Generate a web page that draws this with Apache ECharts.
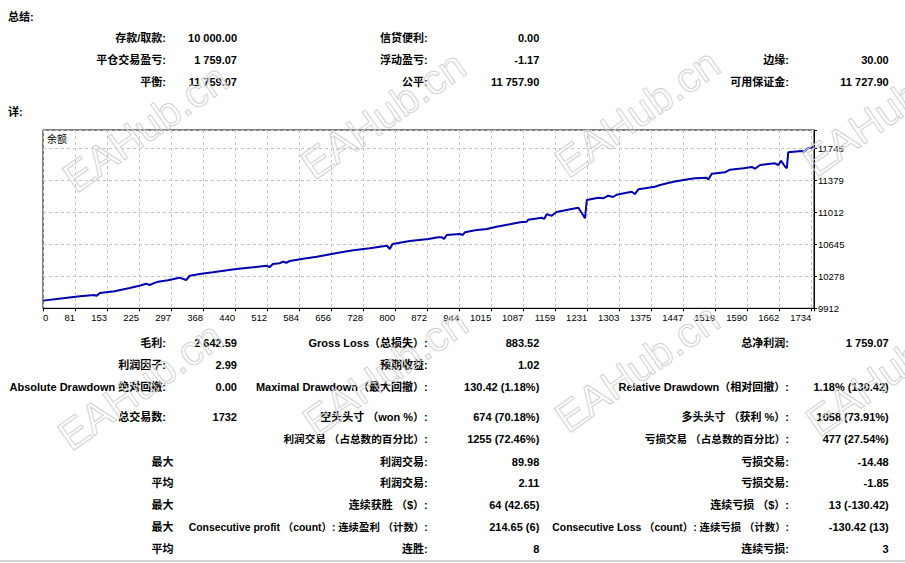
<!DOCTYPE html>
<html>
<head>
<meta charset="utf-8">
<script src="https://cdn.jsdelivr.net/npm/echarts@6/dist/echarts.min.js"></script>
<style>
  html, body { margin: 0; padding: 0; background: #fff; }
  #report { width: 905px; height: 563px; }
</style>
</head>
<body>
<div id="report"></div>
<script>
// balance curve (trade number / balance)
var tradeNo = [0, 45, 83, 116, 120, 128, 161, 195, 217, 232, 240, 247, 259, 281, 307, 322, 330, 356, 382, 435,
  472, 502, 510, 517, 532, 540, 547, 555, 585, 616, 661, 698, 735, 769, 774, 780, 786, 825, 867, 889,
  897, 902, 908, 938, 944, 949, 972, 998, 1020, 1050, 1073, 1088, 1091, 1122, 1127, 1133, 1144, 1155, 1189, 1204,
  1212, 1219, 1223, 1249, 1260, 1271, 1282, 1290, 1324, 1331, 1339, 1354, 1376, 1388, 1406, 1418, 1444, 1466, 1493, 1496,
  1504, 1534, 1545, 1575, 1594, 1601, 1613, 1646, 1654, 1660, 1669, 1673, 1676, 1706, 1711, 1721, 1732];
var balance = [10000, 10027, 10049, 10064, 10053, 10087, 10107, 10145, 10171, 10194, 10179, 10194, 10217, 10233, 10263, 10236, 10285, 10308, 10324, 10362,
  10382, 10400, 10385, 10420, 10428, 10446, 10434, 10454, 10480, 10503, 10545, 10576, 10599, 10626, 10626, 10591, 10649, 10683, 10706, 10725,
  10725, 10706, 10752, 10763, 10752, 10783, 10806, 10820, 10847, 10874, 10897, 10904, 10927, 10950, 10935, 10989, 10973, 11015, 11050, 11064,
  11000, 10943, 11153, 11179, 11172, 11202, 11187, 11213, 11248, 11221, 11275, 11287, 11305, 11325, 11347, 11362, 11385, 11401, 11408, 11385,
  11454, 11470, 11500, 11516, 11531, 11511, 11554, 11573, 11554, 11603, 11534, 11516, 11699, 11714, 11705, 11745, 11759];

// axis tick labels as MT4 prints them
var xLabels = ['0', '81', '153', '225', '297', '368', '440', '512', '584', '656', '728', '800', '872',
  '944', '1015', '1087', '1159', '1231', '1303', '1375', '1447', '1519', '1590', '1662', '1734'];
var yLabels = ['9912', '10278', '10645', '11012', '11379', '11745'];

// report text blocks
var summaryRows = [
  ['存款/取款:', '10 000.00', '信贷便利:', '0.00', '', ''],
  ['平仓交易盈亏:', '1 759.07', '浮动盈亏:', '-1.17', '边缘:', '30.00'],
  ['平衡:', '11 759.07', '公平:', '11 757.90', '可用保证金:', '11 727.90']
];
var statRows = [
  ['毛利:', '2 642.59', 'Gross Loss（总损失）:', '883.52', '总净利润:', '1 759.07'],
  ['利润因子:', '2.99', '预期收益:', '1.02', '', ''],
  ['Absolute Drawdown 绝对回撤:', '0.00', 'Maximal Drawdown（最大回撤）:', '130.42 (1.18%)', 'Relative Drawdown（相对回撤）:', '1.18% (130.42)'],
  ['总交易数:', '1732', '空头头寸 （won %）:', '674 (70.18%)', '多头头寸 （获利 %）:', '1058 (73.91%)'],
  ['', '', '利润交易 （占总数的百分比）:', '1255 (72.46%)', '亏损交易 （占总数的百分比）:', '477 (27.54%)'],
  ['', '', '利润交易:', '89.98', '亏损交易:', '-14.48'],
  ['', '', '利润交易:', '2.11', '亏损交易:', '-1.85'],
  ['', '', '连续获胜 （$）:', '64 (42.65)', '连续亏损 （$）:', '13 (-130.42)'],
  ['', '', 'Consecutive profit （count）: 连续盈利 （计数）:', '214.65 (6)', 'Consecutive Loss （count）: 连续亏损 （计数）:', '-130.42 (13)'],
  ['', '', '连胜:', '8', '连续亏损:', '3']
];
var statPrefix = ['', '', '', '', '', '最大', '平均', '最大', '最大', '平均'];
// a couple of long labels run a touch wide in the fallback fonts
var statSize = [11, 11, 11, 11, 10.6, 11, 11, 11, 10.4, 11];

var summaryY = [38.3, 60, 81.7];
var statY = [343.3, 365, 387.3, 416.7, 439.3, 461.7, 483.3, 505, 527.3, 549.3];
var colRight = [166, 237, 427.7, 539.3, 789, 888.7];

var FONT = '"Liberation Sans", "Noto Sans CJK SC", sans-serif';
var X_STEP = 72, Y_STEP = 366.6, Y_MIN = 9912, Y_MAX = 11954.6;

function txt(s, x, y, align, font) {
  return {
    type: 'text', x: x, y: y, silent: true,
    style: { text: s, fill: '#000', font: font || ('bold 11px ' + FONT), textAlign: align || 'right', textVerticalAlign: 'middle' }
  };
}

var graphics = [];
graphics.push(txt('总结:', 8, 16.7, 'left'));
graphics.push(txt('详:', 8, 112, 'left'));
summaryRows.forEach(function (row, i) {
  row.forEach(function (s, c) { if (s) graphics.push(txt(s, colRight[c], summaryY[i])); });
});
statRows.forEach(function (row, i) {
  row.forEach(function (s, c) {
    if (!s) return;
    var size = (c % 2 === 0) ? statSize[i] : 11;
    graphics.push(txt(s, colRight[c], statY[i], 'right', 'bold ' + size + 'px ' + FONT));
  });
  if (statPrefix[i]) graphics.push(txt(statPrefix[i], 151.5, statY[i], 'left'));
});
graphics.push(txt('余额', 47, 139, 'left', '10px ' + FONT));
graphics.push({
  type: 'line', silent: true,
  shape: { x1: 0, y1: 561, x2: 905, y2: 561 },
  style: { stroke: '#d4d4d4', lineWidth: 2 }
});

// EAHub.cn watermark, outlined and tilted (the right-hand ones run off the page, as in the original)
[[145, 128], [383, 115], [637, 113], [885, 112], [140, 386], [385, 372], [637, 368], [888, 372]].forEach(function (p) {
  graphics.push({
    type: 'text', x: p[0], y: p[1], rotation: 35 * Math.PI / 180, silent: true, z: 100,
    style: {
      text: 'EAHub.cn', font: '42px "Liberation Sans", sans-serif', fill: 'rgba(255,255,255,0)',
      stroke: '#d2d2d2', lineWidth: 1, textAlign: 'center', textVerticalAlign: 'middle'
    }
  });
});

function onTick(v, step) {
  var k = v / step;
  return Math.abs(k - Math.round(k)) < 1e-6 ? Math.round(k) : -1;
}

var points = tradeNo.map(function (t, i) { return [t, balance[i]]; });

var chart = echarts.init(document.getElementById('report'), null, { renderer: 'svg', width: 905, height: 563 });
chart.setOption({
  animation: false,
  backgroundColor: '#fff',
  grid: { left: 43, top: 130, width: 771, height: 178.3, show: true, borderColor: '#000', borderWidth: 1, backgroundColor: '#fff' },
  xAxis: {
    type: 'value', min: 0, max: 1734, interval: X_STEP,
    axisLine: { show: true, lineStyle: { color: '#000', width: 1 } },
    axisTick: { show: true, length: 3, lineStyle: { color: '#000' } },
    splitLine: { show: true, lineStyle: { color: '#c4c4c4', type: [3, 3], width: 1 } },
    axisLabel: {
      color: '#000', fontFamily: FONT, fontSize: 9.5, margin: 4, align: 'right', alignMinLabel: 'left',
      formatter: function (v) { var k = onTick(v, X_STEP); return k >= 0 && k < xLabels.length ? xLabels[k] : ''; }
    }
  },
  yAxis: [
    { type: 'value', min: Y_MIN, max: Y_MAX, show: false, splitLine: { show: false } },
    {
      type: 'value', min: 0, max: Y_MAX - Y_MIN, interval: Y_STEP, position: 'right',
      axisLine: { show: true, lineStyle: { color: '#000', width: 1 } },
      axisTick: { show: true, length: 3, lineStyle: { color: '#000' } },
      splitLine: { show: true, lineStyle: { color: '#c4c4c4', type: [3, 3], width: 1 } },
      axisLabel: {
        color: '#000', fontFamily: FONT, fontSize: 9.5, margin: 4,
        formatter: function (v) { var k = onTick(v, Y_STEP); return k >= 0 && k < yLabels.length ? yLabels[k] : ''; }
      }
    }
  ],
  series: [{
    type: 'line', yAxisIndex: 0, data: points, showSymbol: false,
    lineStyle: { color: '#0000b0', width: 2 }, z: 3
  }],
  graphic: graphics
});
</script>
</body>
</html>
